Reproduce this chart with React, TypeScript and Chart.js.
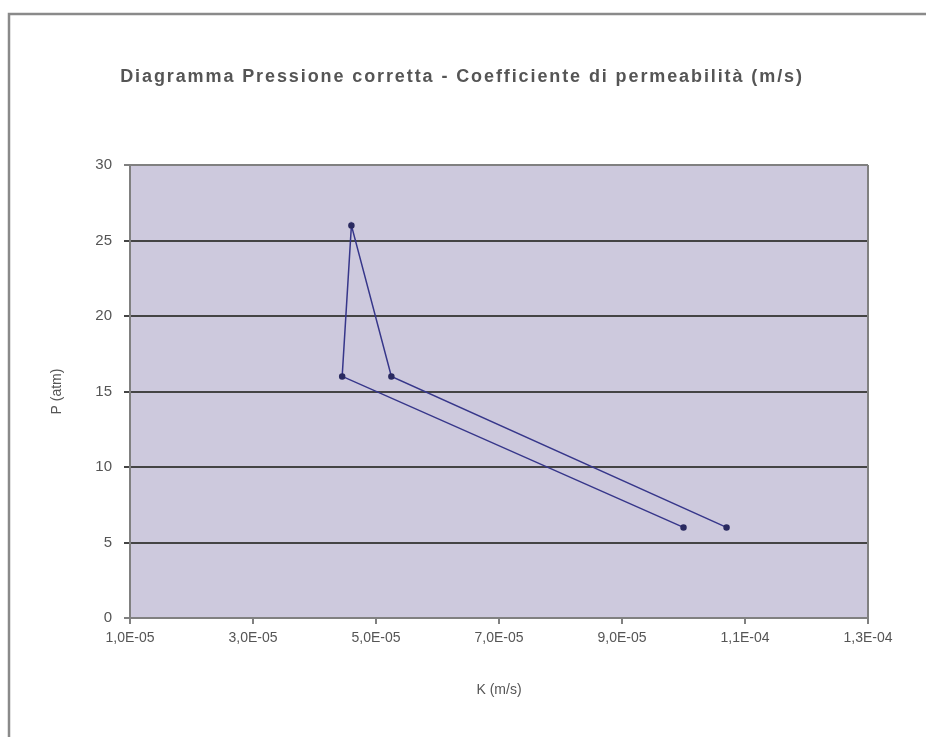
import React, { useEffect, useRef } from "react";
import { Chart, registerables } from "chart.js";

Chart.register(...registerables);

const TITLE = "Diagramma Pressione corretta - Coefficiente di permeabilità (m/s)";
const X_TITLE = "K (m/s)";
const Y_TITLE = "P (atm)";

const K_VALUES = [1.0e-4, 4.45e-5, 4.6e-5, 5.25e-5, 1.07e-4];
const P_VALUES = [6, 16, 26, 16, 6];

const X_TICKS = [1e-5, 3e-5, 5e-5, 7e-5, 9e-5, 1.1e-4, 1.3e-4];
const Y_TICKS = [0, 5, 10, 15, 20, 25, 30];

const FONT = "'Liberation Sans', Arial, sans-serif";

const fmtSci = (v: number) => {
  const [m, e] = v.toExponential(1).split("e");
  const exp = parseInt(e, 10);
  return m.replace(".", ",") + "E" + (exp < 0 ? "-" : "+") + String(Math.abs(exp)).padStart(2, "0");
};

const framePlugin = {
  id: "frame",
  beforeDraw(chart: any) {
    const { ctx, chartArea } = chart;
    ctx.save();
    ctx.fillStyle = "#ffffff";
    ctx.fillRect(0, 0, chart.width, chart.height);
    ctx.strokeStyle = "#8a8a8a";
    ctx.lineWidth = 2.5;
    ctx.beginPath();
    ctx.moveTo(9, chart.height);
    ctx.lineTo(9, 14);
    ctx.lineTo(chart.width, 14);
    ctx.stroke();
    ctx.fillStyle = "#cdc9dd";
    ctx.fillRect(chartArea.left, chartArea.top, chartArea.right - chartArea.left, chartArea.bottom - chartArea.top);
    ctx.restore();
  },
  afterDraw(chart: any) {
    const { ctx } = chart;
    ctx.save();
    ctx.font = "bold 18px " + FONT;
    (ctx as any).letterSpacing = "1.9px";
    ctx.fillStyle = "#555555";
    ctx.textAlign = "center";
    ctx.textBaseline = "middle";
    ctx.fillText(TITLE, 462, 77);
    ctx.restore();
  },
};

export default function App() {
  const ref = useRef<HTMLCanvasElement | null>(null);
  useEffect(() => {
    if (!ref.current) return;
    const data = K_VALUES.map((k, i) => ({ x: k, y: P_VALUES[i] }));
    const chart = new Chart(ref.current, {
      type: "scatter",
      data: {
        datasets: [
          {
            data,
            showLine: true,
            borderColor: "#36368a",
            borderWidth: 1.5,
            pointRadius: 2.5,
            pointBackgroundColor: "#2a2a60",
            pointBorderColor: "#2a2a60",
            tension: 0,
          },
        ],
      },
      options: {
        animation: false,
        responsive: false,
        maintainAspectRatio: false,
        layout: { padding: { left: 0, right: 58, top: 0, bottom: 0 } },
        plugins: {
          legend: { display: false },
          tooltip: { enabled: false },
          title: {
            display: true,
            text: TITLE,
            color: "rgba(0,0,0,0)",
            font: { family: FONT, size: 17, weight: "bold" },
            padding: { top: 66, bottom: 78.6 },
          },
        },
        scales: {
          x: {
            type: "linear",
            min: 1e-5,
            max: 1.3e-4,
            afterBuildTicks: (scale: any) => {
              scale.ticks = X_TICKS.map((v) => ({ value: v }));
            },
            afterFit: (scale: any) => {
              scale.height = 119;
            },
            ticks: {
              callback: (v: any) => fmtSci(Number(v)),
              color: "#555555",
              font: { family: FONT, size: 14 },
              padding: 6,
              maxRotation: 0,
              autoSkip: false,
            },
            grid: {
              drawOnChartArea: false,
              drawTicks: true,
              tickLength: 6,
              color: "#808080",
              lineWidth: 2,
            },
            border: { display: true, color: "#808080", width: 2 },
            title: {
              display: true,
              text: X_TITLE,
              color: "#555555",
              font: { family: FONT, size: 14 },
              padding: { top: 0, bottom: 38 },
            },
          },
          y: {
            type: "linear",
            min: 0,
            max: 30,
            afterBuildTicks: (scale: any) => {
              scale.ticks = Y_TICKS.map((v) => ({ value: v }));
            },
            afterFit: (scale: any) => {
              scale.width = 130;
            },
            ticks: {
              color: "#555555",
              font: { family: FONT, size: 15 },
              padding: 12,
            },
            grid: {
              drawTicks: true,
              tickLength: 6,
              color: (ctx: any) =>
                ctx.tick && (ctx.tick.value === 0 || ctx.tick.value === 30) ? "#808080" : "#444444",
              lineWidth: 2,
            },
            border: { display: true, color: "#808080", width: 2 },
            title: {
              display: true,
              text: Y_TITLE,
              color: "#555555",
              font: { family: FONT, size: 14 },
              padding: { top: 49, bottom: 0 },
            },
          },
        },
      },
      plugins: [
        framePlugin,
        {
          id: "rightBorder",
          afterDatasetsDraw(chart: any) {
            const { ctx, chartArea } = chart;
            ctx.save();
            ctx.strokeStyle = "#808080";
            ctx.lineWidth = 2;
            ctx.beginPath();
            ctx.moveTo(chartArea.right, chartArea.top);
            ctx.lineTo(chartArea.right, chartArea.bottom);
            ctx.stroke();
            ctx.restore();
          },
        },
      ],
    });
    return () => chart.destroy();
  }, []);
  return (
    <div style={{ position: "absolute", left: 0, top: 0, width: 926, height: 737 }}>
      <canvas ref={ref} width={926} height={737} style={{ width: 926, height: 737 }} />
    </div>
  );
}
